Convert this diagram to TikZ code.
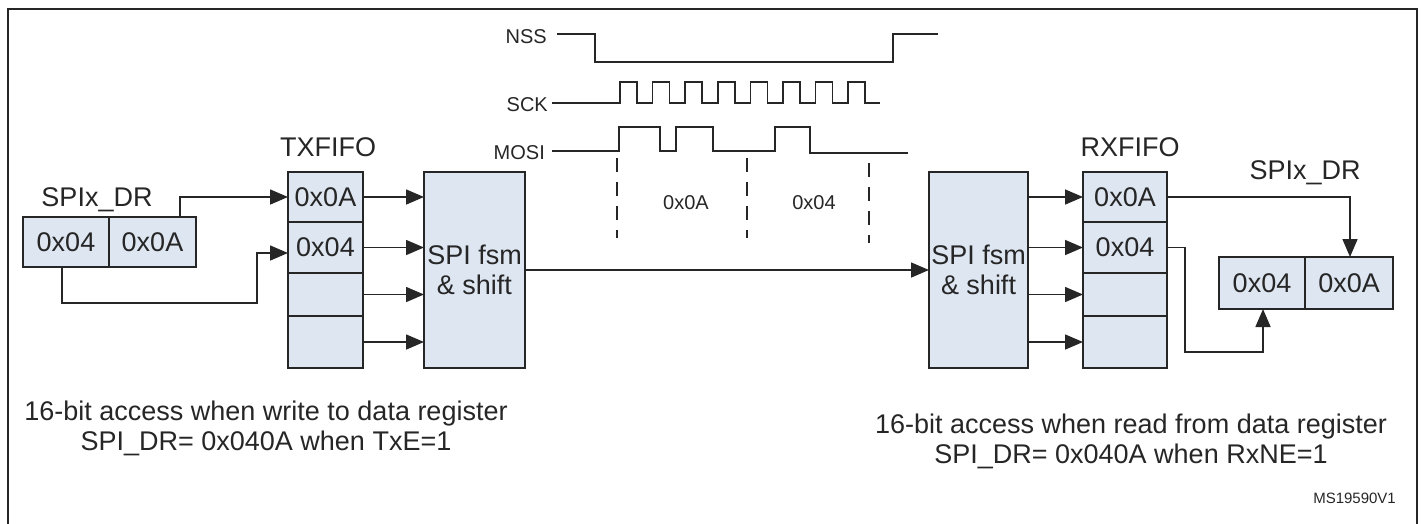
\documentclass[tikz,border=0pt]{standalone}
\usepackage{fontspec}
\setmainfont{Liberation Sans}
\usetikzlibrary{arrows.meta}
\definecolor{boxfill}{RGB}{222,230,241}
\definecolor{ink}{RGB}{38,38,38}
\begin{document}
\begin{tikzpicture}[x=1pt,y=-1pt,
  font=\fontsize{27}{30}\selectfont, text=ink,
  cell/.style={draw=ink, line width=1.6pt, fill=boxfill, inner sep=0pt, outer sep=0pt, rectangle},
  arr/.style={draw=ink, line width=1.6pt, -{Triangle[length=18pt,width=15pt]}},
  sig/.style={draw=ink, line width=1.5pt},
  sigl/.style={font=\fontsize{20}{22}\selectfont, anchor=east, inner sep=0pt},
  dash line/.style={draw=ink, line width=1.5pt, dash pattern=on 14pt off 10pt},
  lbl/.style={inner sep=0pt}]
\useasboundingbox (0,0) rectangle (1423,523);
% frame
\draw[ink, line width=2.2pt] (8,540) -- (8,9) -- (1417,9) -- (1417,540);

% left data register
\node[lbl] (ldrlab) at (97,200) {SPIx\_DR};
\node[cell, minimum width=86pt, minimum height=50pt] (ldrA) at (66,242) {0x04};
\node[cell, minimum width=87pt, minimum height=50pt] (ldrB) at (152.5,242) {0x0A};

% TXFIFO
\node[lbl] (txlab) at (328,147) {TXFIFO};
\node[cell, minimum width=75pt, minimum height=50pt] (tx1) at (325.5,197) {0x0A};
\node[cell, minimum width=75pt, minimum height=51pt] (tx2) at (325.5,247.5) {0x04};
\node[cell, minimum width=75pt, minimum height=43pt] (tx3) at (325.5,294.5) {};
\node[cell, minimum width=75pt, minimum height=52pt] (tx4) at (325.5,342) {};

% left fsm
\node[cell, minimum width=101pt, minimum height=196pt, align=center] (lfsm) at (474.5,270) {SPI fsm\\\& shift};

% right fsm
\node[cell, minimum width=99pt, minimum height=196pt, align=center] (rfsm) at (978.5,270) {SPI fsm\\\& shift};

% RXFIFO
\node[lbl] (rxlab) at (1130,147) {RXFIFO};
\node[cell, minimum width=84pt, minimum height=50pt] (rx1) at (1125,197) {0x0A};
\node[cell, minimum width=84pt, minimum height=51pt] (rx2) at (1125,247.5) {0x04};
\node[cell, minimum width=84pt, minimum height=43pt] (rx3) at (1125,294.5) {};
\node[cell, minimum width=84pt, minimum height=52pt] (rx4) at (1125,342) {};

% right data register
\node[lbl] (rdrlab) at (1305,173) {SPIx\_DR};
\node[cell, minimum width=86pt, minimum height=52pt] (rdrA) at (1262,283) {0x04};
\node[cell, minimum width=88pt, minimum height=52pt] (rdrB) at (1349,283) {0x0A};

% connectors left
\draw[arr] ([xshift=27.5pt]ldrB.north) |- (tx1.west);
\coordinate (lb1) at (62,303);
\coordinate (lb2) at (257,253);
\draw[arr] ([xshift=-4pt]ldrA.south) -- (lb1) -| (lb2) -- ([yshift=-5.5pt]tx2.west);
\foreach \c in {tx1,tx2,tx3,tx4}{
  \draw[arr] (\c.east) -- (\c.east -| lfsm.west);
}
\draw[arr] (lfsm.east) -- (rfsm.west);
\foreach \c in {rx1,rx2,rx3,rx4}{
  \draw[arr] (\c.west -| rfsm.east) -- (\c.west);
}
\draw[arr] (rx1.east) -| ([xshift=1pt]rdrB.north);
\coordinate (rb) at (1263,352);
\draw[arr] (rx2.east) -- ++(18,0) |- (rb) -- ([xshift=1pt]rdrA.south);

% signals
\node[sigl] (nss) at (547,37) {NSS};
\node[sigl] (sck) at (548,105) {SCK};
\node[sigl] (mosi) at (545,153) {MOSI};
\draw[sig] (557,34) -- (595,34) -- (595,62) -- (893,62) -- (893,34) -- (938,34);
\draw[sig] (552,103) -- (620,103)
  \foreach \i in {0,...,7}{ -- ({620+32.6*\i},103) -- ({620+32.6*\i},82) -- ({637+32.6*\i},82) -- ({637+32.6*\i},103) }
  -- (880,103);
\draw[sig] (552,151) -- (619,151) -- (619,127) -- (660,127) -- (660,151) -- (676,151) -- (676,127) -- (713,127) -- (713,151) -- (775,151) -- (775,127) -- (810,127) -- (810,153) -- (908,153);
\draw[dash line] (617,158) -- (617,238);
\draw[dash line] (747,158) -- (747,238);
\draw[dash line] (869,163) -- (869,243);
\node[lbl, font=\fontsize{20}{22}\selectfont] (b1) at (686,203) {0x0A};
\node[lbl, font=\fontsize{20}{22}\selectfont] (b2) at (814,203) {0x04};

% bottom notes
\node[lbl, align=center] (nl) at (266,428) {16-bit access when write to data register\\SPI\_DR= 0x040A when TxE=1};
\node[lbl, align=center] (nr) at (1131,441) {16-bit access when read from data register\\SPI\_DR= 0x040A when RxNE=1};
\node[lbl, anchor=east, font=\fontsize{15}{17}\selectfont] (ms) at (1396,498) {MS19590V1};
\end{tikzpicture}
\end{document}
